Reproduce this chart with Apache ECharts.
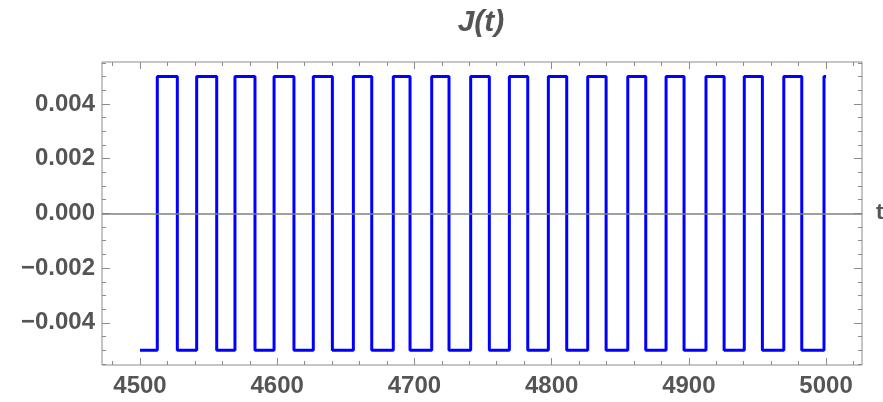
<!DOCTYPE html>
<html>
<head>
<meta charset="utf-8">
<script src="https://cdn.jsdelivr.net/npm/echarts@6/dist/echarts.min.js"></script>
<style>
  html, body { margin: 0; padding: 0; background: #fff; }
  #chart { width: 883px; height: 402px; }
</style>
</head>
<body>
<div id="chart"></div>
<script>
// Square current J(t) between t = 4500 and t = 5000
const tStart = 4500;
const tEnd = 5000;
const levelLow = -0.005;
const levelHigh = 0.005;
// switching times: low -> high
const riseTimes = [4512.6, 4541.3, 4569.2, 4597.7, 4626.3, 4655.5, 4684.6, 4712.6, 4741.0,
                   4769.2, 4797.6, 4826.3, 4855.5, 4883.4, 4912.5, 4940.4, 4969.2, 4998.5];
// switching times: high -> low
const fallTimes = [4527.2, 4555.9, 4583.8, 4612.2, 4640.2, 4668.9, 4696.8, 4725.2, 4754.6,
                   4782.6, 4811.0, 4839.7, 4868.6, 4896.5, 4925.7, 4953.6, 4982.3];

// tick positions
const xMajorTicks = [4500, 4600, 4700, 4800, 4900, 5000];
const xMinorTicks = [4480, 4520, 4540, 4560, 4580, 4620, 4640, 4660, 4680, 4720, 4740, 4760, 4780,
                     4820, 4840, 4860, 4880, 4920, 4940, 4960, 4980, 5020];
const yMajorTicks = [-0.004, -0.002, 0, 0.002, 0.004];
const yMinorTicks = [-0.0055, -0.005, -0.0045, -0.0035, -0.003, -0.0025, -0.0015, -0.001, -0.0005,
                     0.0005, 0.001, 0.0015, 0.0025, 0.003, 0.0035, 0.0045, 0.005, 0.0055];

// build the step path from the switching times
const points = [[tStart, levelLow]];
const edges = [];
riseTimes.forEach(t => edges.push([t, levelLow, levelHigh]));
fallTimes.forEach(t => edges.push([t, levelHigh, levelLow]));
edges.sort((a, b) => a[0] - b[0]);
let current = levelLow;
edges.forEach(([t, from, to]) => {
  points.push([t, from]);
  points.push([t, to]);
  current = to;
});
points.push([tEnd, current]);

const frameColor = '#8c8c8c';
const labelColor = '#555555';
const labelFont = 'Liberation Sans, Arial, sans-serif';

const xRange = { min: 4472.3, max: 5026.2 };
const yRange = { min: -0.00554, max: 0.00553 };

function fmtX(v) {
  return String(Math.round(v));
}
function fmtY(v) {
  const s = Math.abs(v).toFixed(3);
  return v < -1e-12 ? '\u2212' + s : s;
}

function tickAxis(position, ticks, len, labels, extra) {
  return Object.assign({
    type: 'value',
    position: position,
    axisLine: { show: false, onZero: false },
    splitLine: { show: false },
    axisTick: {
      show: true, inside: true, length: len, customValues: ticks,
      lineStyle: { color: frameColor, width: 1 }
    },
    axisLabel: labels ? Object.assign({
      show: true, customValues: ticks, color: labelColor,
      fontFamily: labelFont, fontWeight: 'bold', fontSize: 24
    }, labels) : { show: false }
  }, extra);
}

const chart = echarts.init(document.getElementById('chart'), null, { renderer: 'canvas' });
chart.setOption({
  animation: false,
  grid: {
    left: 102, top: 62, width: 760, height: 303,
    show: true, borderColor: frameColor, borderWidth: 1, backgroundColor: 'transparent'
  },
  graphic: [{
    type: 'text', x: 481, y: 23,
    style: {
      text: 'J(t)', fill: labelColor, align: 'center', verticalAlign: 'middle',
      font: 'italic bold 30px Liberation Sans, Arial, sans-serif'
    }
  }],
  xAxis: [
    tickAxis('bottom', xMajorTicks, 7, { margin: 9, formatter: fmtX }, xRange),
    tickAxis('bottom', xMinorTicks, 4, null, xRange),
    tickAxis('top', xMajorTicks, 7, null, xRange),
    tickAxis('top', xMinorTicks, 4, null, xRange)
  ],
  yAxis: [
    tickAxis('left', yMajorTicks, 8, { margin: 7, formatter: fmtY }, yRange),
    tickAxis('left', yMinorTicks, 4, null, yRange),
    tickAxis('right', yMajorTicks, 8, null, yRange),
    tickAxis('right', yMinorTicks, 4, null, yRange)
  ],
  series: [{
    type: 'line',
    xAxisIndex: 0,
    yAxisIndex: 0,
    data: points,
    showSymbol: false,
    lineStyle: { color: '#0000ff', width: 3 },
    z: 3,
    markLine: {
      silent: true,
      symbol: 'none',
      animation: false,
      lineStyle: { color: '#808080', width: 1.5, type: 'solid' },
      label: {
        show: true, position: 'end', formatter: 't', distance: 14,
        color: labelColor, fontFamily: labelFont, fontWeight: 'bold', fontSize: 22
      },
      emphasis: { disabled: true },
      data: [{ yAxis: 0 }]
    }
  }]
});
</script>
</body>
</html>
